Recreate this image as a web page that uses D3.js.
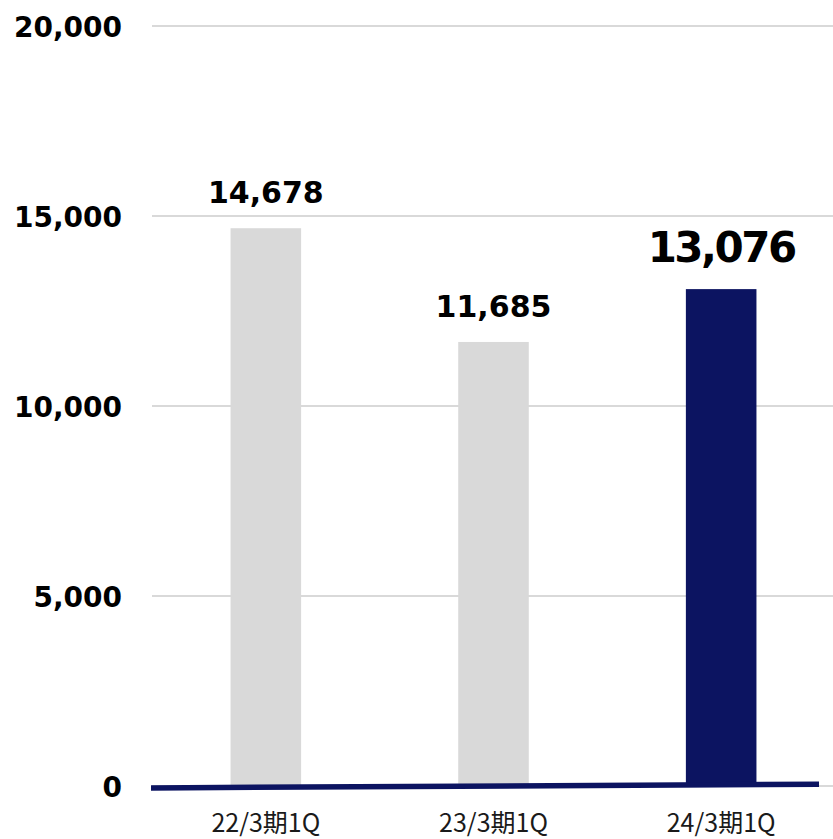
<!DOCTYPE html>
<html>
<head>
<meta charset="utf-8">
<script src="https://cdn.jsdelivr.net/npm/d3@7"></script>
<style>
  html, body { margin: 0; padding: 0; background: #ffffff; }
  svg { display: block; }
</style>
</head>
<body>
<div id="chart"></div>
<script>
// Quarterly figures (first quarter of each fiscal year)
const categories = ["22/3期1Q", "23/3期1Q", "24/3期1Q"];
const values = [14678, 11685, 13076];
const highlight = [false, false, true];
// y-axis ticks
const yTicks = [0, 5000, 10000, 15000, 20000];
// baseline rule values at its left and right ends
const baselineEnds = [-50, 45];

const width = 833, height = 839;
const plot = { left: 152, right: 835, top: 26, bottom: 786 };

const svg = d3.select("#chart").append("svg")
  .attr("width", width)
  .attr("height", height);

const x = d3.scaleBand()
  .domain(categories)
  .range([plot.left, plot.right])
  .paddingInner(0.69)
  .paddingOuter(0.345);

const y = d3.scaleLinear()
  .domain([0, 20000])
  .range([plot.bottom, plot.top]);

const fmt = d3.format(",");

// horizontal gridlines
svg.append("g")
  .selectAll("line")
  .data(yTicks)
  .join("line")
  .attr("x1", plot.left)
  .attr("x2", width)
  .attr("y1", d => y(d))
  .attr("y2", d => y(d))
  .attr("stroke", "#d9d9d9")
  .attr("stroke-width", 2);

// y-axis labels
const yAxis = d3.axisLeft(y).tickValues(yTicks).tickFormat(fmt).tickSize(0).tickPadding(0);
const yg = svg.append("g")
  .attr("transform", `translate(122,0)`)
  .call(yAxis);
yg.select(".domain").remove();
yg.selectAll("text")
  .attr("font-family", "'DejaVu Sans', Verdana, sans-serif")
  .attr("font-weight", "bold")
  .attr("font-size", 28)
  .attr("fill", "#000")
  .attr("dy", "0.36em");

// bars
svg.append("g")
  .selectAll("rect")
  .data(values)
  .join("rect")
  .attr("x", (d, i) => x(categories[i]))
  .attr("width", x.bandwidth())
  .attr("y", d => y(d))
  .attr("height", d => y(0) - y(d))
  .attr("fill", (d, i) => highlight[i] ? "#0c1461" : "#d9d9d9");

// value labels
svg.append("g")
  .selectAll("text")
  .data(values)
  .join("text")
  .attr("x", (d, i) => x(categories[i]) + x.bandwidth() / 2)
  .attr("y", (d, i) => y(d) - (highlight[i] ? 27 : 25))
  .attr("text-anchor", "middle")
  .attr("font-family", "'DejaVu Sans', Verdana, sans-serif")
  .attr("font-weight", "bold")
  .attr("font-size", (d, i) => highlight[i] ? 42 : 30)
  .attr("letter-spacing", (d, i) => highlight[i] ? -2.5 : 0)
  .attr("fill", "#000")
  .text(d => fmt(d));

// navy baseline rule
const lineX = d3.scaleLinear().domain([0, 1]).range([plot.left - 1, 819]);
svg.append("path")
  .datum(baselineEnds)
  .attr("d", d3.line().x((d, i) => lineX(i)).y(d => y(d)))
  .attr("stroke", "#0c1461")
  .attr("stroke-width", 5.5)
  .attr("fill", "none");

// category labels
const xAxis = d3.axisBottom(x).tickSize(0).tickPadding(0);
const xg = svg.append("g")
  .attr("transform", `translate(0,832)`)
  .call(xAxis);
xg.select(".domain").remove();
xg.selectAll("text")
  .attr("font-family", "'Noto Sans CJK JP', sans-serif")
  .attr("font-size", 25)
  .attr("fill", "#1a1a1a")
  .attr("dy", 0);
</script>
</body>
</html>
